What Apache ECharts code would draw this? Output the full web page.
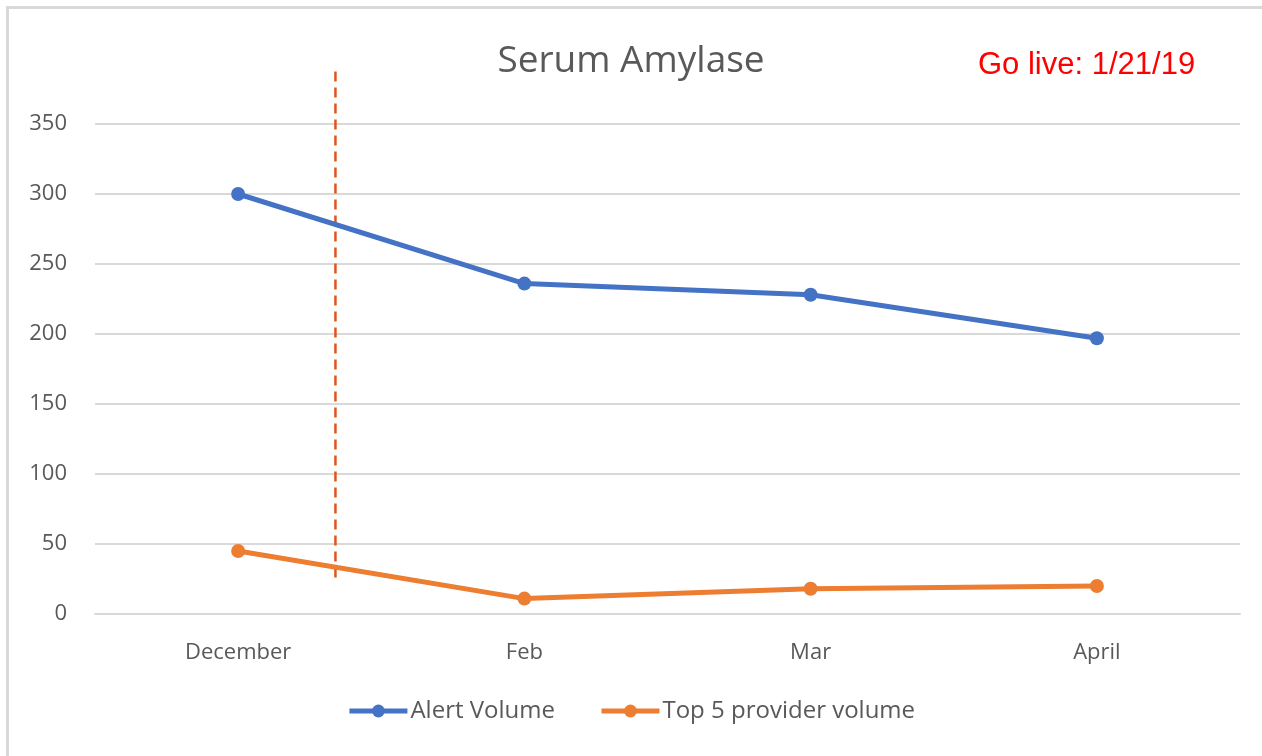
<!DOCTYPE html>
<html>
<head>
<meta charset="utf-8">
<script src="https://cdn.jsdelivr.net/npm/echarts@6/dist/echarts.min.js"></script>
<style>
  html, body { margin: 0; padding: 0; background: #fff; overflow: hidden; }
  #chart { position: absolute; left: 0; top: 0; width: 1262px; height: 756px; }
</style>
</head>
<body>
<div id="chart"></div>
<script>
const categories = ['December', 'Feb', 'Mar', 'April'];
const alertVolume = [300, 236, 228, 197];
const top5Volume = [45, 11, 18, 20];
const yTicks = { min: 0, max: 350, interval: 50 };
// Go-live marker: position between December (0) and Feb (1), value range of dashed line
const goLiveX = 0.34;
const goLiveRange = [26, 390];

const FONT = '"Open Sans", Lato, sans-serif';
const chart = echarts.init(document.getElementById('chart'), null, { renderer: 'canvas' });
chart.setOption({
  animation: false,
  backgroundColor: '#fff',
  graphic: [
    { type: 'line', shape: { x1: 7.5, y1: 7.5, x2: 7.5, y2: 756 }, style: { stroke: '#D9D9D9', lineWidth: 3 }, silent: true },
    { type: 'line', shape: { x1: 6, y1: 7.5, x2: 1262, y2: 7.5 }, style: { stroke: '#D9D9D9', lineWidth: 3 }, silent: true }
  ],
  title: [
    { text: 'Serum Amylase', left: 'center', top: 38,
      textStyle: { fontFamily: FONT, fontSize: 37, fontWeight: 'normal', color: '#595959' } },
    { text: 'Go live: 1/21/19', left: 973, top: 45,
      textStyle: { fontFamily: '"Liberation Sans", Arial, sans-serif', fontSize: 31, fontWeight: 'normal', color: '#FF0000' } }
  ],
  legend: {
    bottom: 28, left: 'center',
    itemWidth: 58, itemHeight: 16, itemGap: 44,
    data: ['Alert Volume', 'Top 5 provider volume'],
    lineStyle: { width: 5 },
    textStyle: { fontFamily: FONT, fontSize: 24, color: '#595959', padding: [0, 0, 0, -2] }
  },
  grid: [
    { left: 95, right: 22, top: 124, bottom: 142 },
    { left: 95, right: 22, top: 68, bottom: 142 }
  ],
  xAxis: [
    { type: 'category', data: categories, gridIndex: 0, boundaryGap: true,
      axisLine: { show: true, lineStyle: { color: '#D9D9D9', width: 2 } },
      axisTick: { show: false },
      axisLabel: { fontFamily: FONT, fontSize: 22, color: '#595959', margin: 28 } },
    { type: 'value', gridIndex: 1, min: -0.5, max: 3.5, show: false }
  ],
  yAxis: [
    { type: 'value', gridIndex: 0, min: yTicks.min, max: yTicks.max, interval: yTicks.interval,
      axisLine: { show: false }, axisTick: { show: false },
      splitLine: { lineStyle: { color: '#D9D9D9', width: 2 } },
      axisLabel: { fontFamily: FONT, fontSize: 22, color: '#595959', margin: 28 } },
    { type: 'value', gridIndex: 1, min: 0, max: 390, show: false }
  ],
  series: [
    { name: 'Alert Volume', type: 'line', data: alertVolume, xAxisIndex: 0, yAxisIndex: 0,
      symbol: 'circle', symbolSize: 14,
      lineStyle: { color: '#4472C4', width: 5 }, itemStyle: { color: '#4472C4' } },
    { name: 'Top 5 provider volume', type: 'line', data: top5Volume, xAxisIndex: 0, yAxisIndex: 0,
      symbol: 'circle', symbolSize: 14,
      lineStyle: { color: '#ED7D31', width: 5 }, itemStyle: { color: '#ED7D31' } },
    { name: 'Go live', type: 'line', xAxisIndex: 1, yAxisIndex: 1, z: 1,
      data: [[goLiveX, goLiveRange[0]], [goLiveX, goLiveRange[1]]],
      symbol: 'none', silent: true, clip: false,
      lineStyle: { color: '#E0541C', width: 2.5, type: [10, 6] } }
  ]
});
</script>
</body>
</html>
